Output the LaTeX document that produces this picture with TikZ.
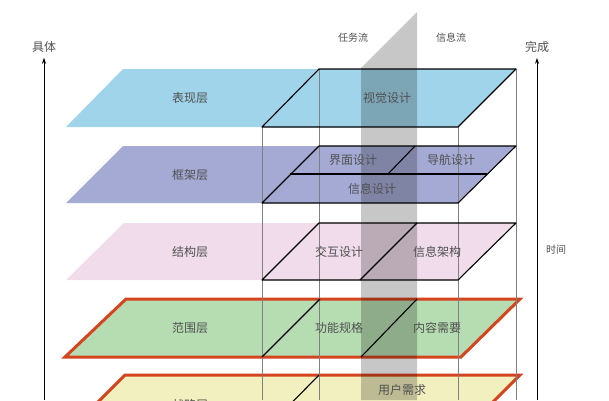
\documentclass[tikz,border=0pt]{standalone}
\usepackage{fontspec}
\usetikzlibrary{arrows.meta}
\newfontfamily\cjk{Noto Sans CJK SC}
\definecolor{skinblue}{RGB}{160,212,234}
\definecolor{skeletonblue}{RGB}{164,170,212}
\definecolor{structpink}{RGB}{240,220,234}
\definecolor{scopegreen}{RGB}{182,221,178}
\definecolor{strategyyellow}{RGB}{242,240,190}
\definecolor{edgered}{RGB}{212,68,30}
\definecolor{labelgray}{RGB}{80,80,80}
\begin{document}
\begin{tikzpicture}[x=1pt, y=-1pt,
  every node/.style={text=labelgray, inner sep=1pt, font=\cjk\fontsize{12}{12}\selectfont},
  small/.style={font=\cjk\fontsize{10}{10}\selectfont},
  boxline/.style={black, line width=1.1pt, line join=round},
  frame/.style={gray, line width=0.7pt},
  plane/.style={draw=edgered, line width=3pt, line join=miter},
  axis/.style={black, line width=1pt, -{Stealth[length=6pt, width=4pt]}}]
  \clip (0,0) rectangle (609,400);
  % Five planes, top to bottom
  \fill[skinblue] (66,127) -- (123,69) -- (516,69) -- (458,127) -- cycle;
  \fill[skeletonblue] (66,203) -- (123,146) -- (516,146) -- (458,203) -- cycle;
  \fill[structpink] (66,280) -- (124,223) -- (516,223) -- (458,280) -- cycle;
  \filldraw[fill=scopegreen, plane] (65,357) -- (126,299) -- (520,299) -- (461,357) -- cycle;
  \filldraw[fill=strategyyellow, plane] (67,433) -- (125,375) -- (520,375) -- (462,433) -- cycle;

  % Edges of the box
  \draw[frame] (262,127) -- (262,400);
  \draw[frame] (458,127) -- (458,400);
  \draw[frame] (319,69) -- (319,400);
  \draw[frame] (516,69) -- (516,400);

  % Grey plane between task flow and information flow
  \fill[black, opacity=0.22] (361,68) -- (417,12) -- (417,400) -- (361,400) -- cycle;

  % Cells inside the box
  \draw[boxline] (262,127) -- (319,69) -- (516,69) -- (458,127) -- cycle;
  \draw[boxline] (262,203) -- (319,146) -- (516,146) -- (458,203) -- cycle;
  \draw[boxline] (290,174) -- (487,174);
  \draw[boxline] (415,146) -- (388,174);
  \draw[boxline] (262,280) -- (319,223) -- (516,223) -- (458,280) -- cycle;
  \draw[boxline] (417,223) -- (360,280);
  \draw[boxline] (320,299) -- (262,357);
  \draw[boxline] (417,299) -- (361,357);
  \draw[boxline] (319,375) -- (262,433);

  % Plane names
  \node (skin) at (190,98) {表现层};
  \node (skeleton) at (190,175) {框架层};
  \node (structure) at (190,252) {结构层};
  \node (scope) at (190,328) {范围层};
  \node (strategy) at (190,405) {战略层};

  % Cell texts
  \node (visual) at (387,98) {视觉设计};
  \node (interface) at (353,160) {界面设计};
  \node (navigation) at (451,160) {导航设计};
  \node (infodesign) at (372,189) {信息设计};
  \node (interaction) at (339,252) {交互设计};
  \node (infoarch) at (437,252) {信息架构};
  \node (function) at (339,328) {功能规格};
  \node (content) at (437,328) {内容需要};
  \node (userneeds) at (402,390) {用户需求};

  % Flows and axes
  \node[small] (taskflow) at (353,38) {任务流};
  \node[small] (infoflow) at (451,38) {信息流};
  \node (concrete) at (44,47) {具体};
  \node (complete) at (537,47) {完成};
  \node[small] (time) at (556,250) {时间};
  \coordinate (leftfoot) at (44,400);
  \coordinate (rightfoot) at (537,400);
  \draw[axis] (leftfoot) -- ([yshift=-4pt]concrete.south);
  \draw[axis] (rightfoot) -- ([yshift=-4pt]complete.south);
\end{tikzpicture}
\end{document}
